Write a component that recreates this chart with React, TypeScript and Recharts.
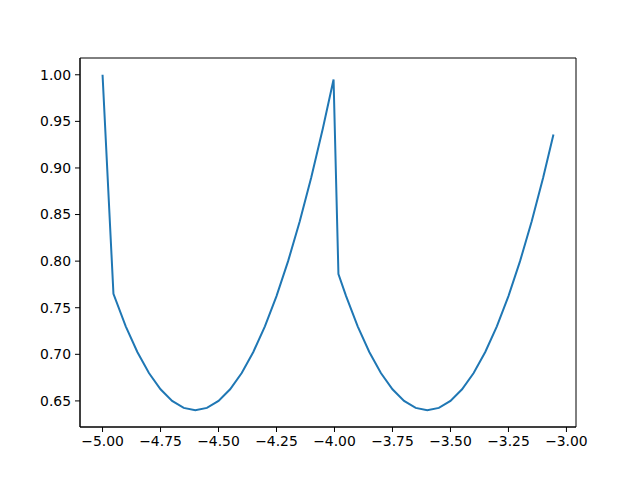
import React from 'react';
import { LineChart, Line, XAxis, YAxis, ReferenceArea } from 'recharts';

// values
const xValues = [
  -5.0, -4.953, -4.9, -4.85, -4.8, -4.75, -4.7, -4.65, -4.6, -4.55, -4.5, -4.45, -4.4, -4.35, -4.3,
  -4.25, -4.2, -4.15, -4.1, -4.05, -4.004,
  -3.983, -3.95, -3.9, -3.85, -3.8, -3.75, -3.7, -3.65, -3.6, -3.55, -3.5, -3.45, -3.4, -3.35, -3.3,
  -3.25, -3.2, -3.15, -3.1, -3.056,
];
const yValues = [
  1.0, 0.765, 0.73, 0.7025, 0.68, 0.6625, 0.65, 0.6425, 0.64, 0.6425, 0.65, 0.6625, 0.68, 0.7025, 0.73,
  0.7625, 0.8, 0.8425, 0.89, 0.9425, 0.995,
  0.786, 0.7625, 0.73, 0.7025, 0.68, 0.6625, 0.65, 0.6425, 0.64, 0.6425, 0.65, 0.6625, 0.68, 0.7025, 0.73,
  0.7625, 0.8, 0.8425, 0.89, 0.936,
];
const xTicks = [-5.0, -4.75, -4.5, -4.25, -4.0, -3.75, -3.5, -3.25, -3.0];
const yTicks = [0.65, 0.7, 0.75, 0.8, 0.85, 0.9, 0.95, 1.0];

const data = xValues.map((x, i) => ({ x, y: yValues[i] }));

const xDomain: [number, number] = [-5.0972, -2.9588];
const yDomain: [number, number] = [0.622, 1.018];

const fmt = (v: number) => v.toFixed(2).replace('-', '\u2212');

const tickStyle = { fontFamily: 'DejaVu Sans', fontSize: 13.9, fill: '#000' };

const App: React.FC = () => {
  return (
    <div style={{ position: 'absolute', left: 0, top: 0, width: 640, height: 480, background: '#fff' }}>
      <LineChart width={640} height={480} data={data} margin={{ top: 58, right: 64, bottom: 0, left: 0 }}>
        <XAxis
          dataKey="x"
          type="number"
          domain={xDomain}
          allowDataOverflow
          ticks={xTicks}
          tickFormatter={fmt}
          height={53}
          tickSize={5}
          tickMargin={4}
          tick={tickStyle}
          axisLine={{ stroke: '#000', strokeWidth: 1 }}
          tickLine={{ stroke: '#000', strokeWidth: 1 }}
          interval={0}
        />
        <YAxis
          type="number"
          domain={yDomain}
          allowDataOverflow
          ticks={yTicks}
          tickFormatter={fmt}
          width={80}
          tickSize={5}
          tickMargin={4}
          tick={tickStyle}
          axisLine={{ stroke: '#000', strokeWidth: 1 }}
          tickLine={{ stroke: '#000', strokeWidth: 1 }}
          interval={0}
        />
        <ReferenceArea
          x1={xDomain[0]}
          x2={xDomain[1]}
          y1={yDomain[0]}
          y2={yDomain[1]}
          fill="none"
          stroke="#000"
          strokeWidth={1}
          ifOverflow="visible"
        />
        <Line
          type="linear"
          dataKey="y"
          stroke="#1f77b4"
          strokeWidth={2}
          dot={false}
          isAnimationActive={false}
        />
      </LineChart>
    </div>
  );
};

export default App;
